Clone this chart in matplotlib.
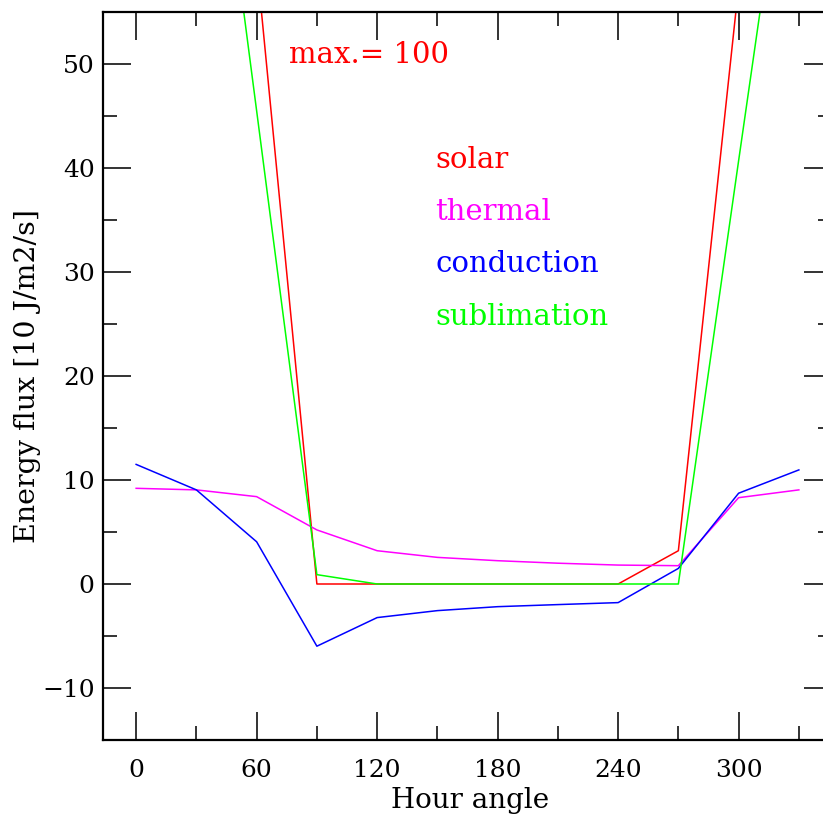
import numpy as np
import matplotlib
matplotlib.use('Agg')
import matplotlib.pyplot as plt
from matplotlib.ticker import MultipleLocator

# heures (deg) et flux d'energie [10 J/m2/s]
hour = [0, 30, 60, 90, 120, 150, 180, 210, 240, 270, 300, 330]
solar = [100, 87, 59.8, 0, 0, 0, 0, 0, 0, 3.2, 57.5, 90]
thermal = [9.2, 9.05, 8.4, 5.2, 3.2, 2.56, 2.24, 2.0, 1.82, 1.76, 8.3, 9.05]
conduction = [11.5, 9.05, 4.06, -5.98, -3.23, -2.56, -2.18, -1.98, -1.79, 1.5, 8.73, 10.97]
sublimation = [96, 90, 45.5, 0.9, 0, 0, 0, 0, 0, 0, 40.7, 81]

noms = ['solar', 'thermal', 'conduction', 'sublimation']
couleurs = ['#ff0000', '#ff00ff', '#0000ff', '#00ff00']
series = [solar, thermal, conduction, sublimation]

plt.rcParams['font.family'] = ['DejaVu Serif']

fig = plt.figure(figsize=(8.23, 8.16), dpi=100)
ax = fig.add_axes([103/823, 76/816, 729/823, 728/816])

for s, c in zip(series, couleurs):
    ax.plot(hour, s, color=c, lw=1.1)

ax.set_xlim(-16.5, 346.5)
ax.set_ylim(-15, 55)

ax.xaxis.set_major_locator(MultipleLocator(60))
ax.xaxis.set_minor_locator(MultipleLocator(30))
ax.yaxis.set_major_locator(MultipleLocator(10))
ax.yaxis.set_minor_locator(MultipleLocator(5))

ax.tick_params(which='both', direction='in', top=True, right=True,
               color='#333333', width=1.4, labelsize=18)
ax.tick_params(which='major', length=20)
ax.tick_params(which='minor', length=10)
ax.tick_params(axis='x', which='major', pad=14)
ax.tick_params(axis='y', which='major', pad=6)
for sp in ax.spines.values():
    sp.set_linewidth(1.6)

ax.set_xlabel('Hour angle', fontsize=20, va='center')
ax.xaxis.set_label_coords(0.503, -0.083)
ax.set_ylabel('Energy flux [10 J/m2/s]', fontsize=20.5, va='center')
ax.yaxis.set_label_coords(-0.104, 0.5)

ax.text(76, 50.9, 'max.= 100', color='#ff0000', fontsize=21, ha='left', va='center')
for i, (n, c) in enumerate(zip(noms, couleurs)):
    ax.text(149, 40.8 - 5.03*i, n, color=c, fontsize=21, ha='left', va='center')

plt.savefig('out.png', dpi=100)
